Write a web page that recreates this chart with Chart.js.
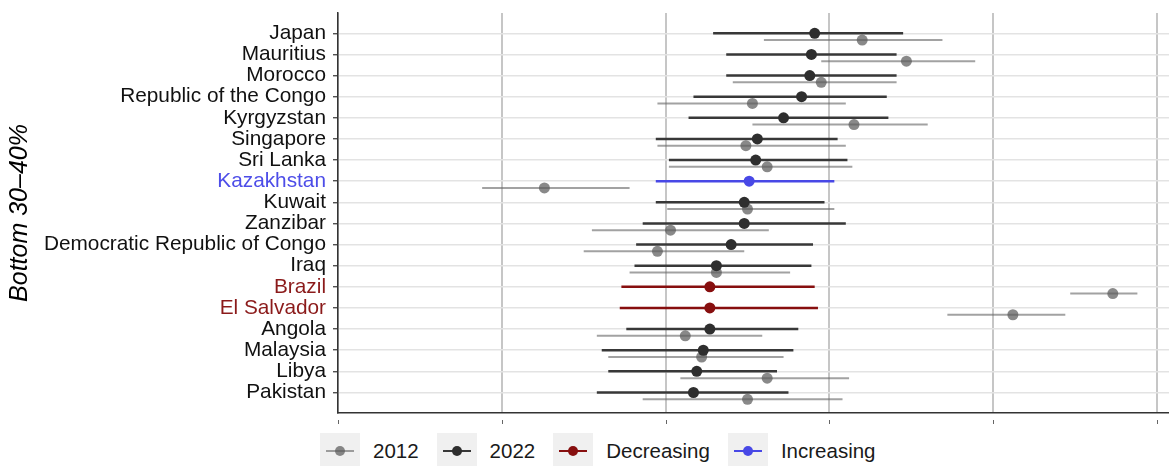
<!DOCTYPE html>
<html>
<head>
<meta charset="utf-8">
<script src="https://cdn.jsdelivr.net/npm/chart.js@4.4.1/dist/chart.umd.min.js"></script>
<style>
  body { margin: 0; background: #fff; width: 1169px; height: 466px; overflow: hidden;
         font-family: "Liberation Sans", Arial, Helvetica, sans-serif; }
  #wrap { position: relative; width: 1169px; height: 466px; }
  #c { position: absolute; left: 0; top: 0; }
  #legend { position: absolute; left: 320px; top: 433px; display: flex; align-items: center; height: 36px; }
  .item { display: flex; align-items: center; margin-right: 18px; }
  .key { position: relative; width: 40px; height: 36px; background: #f0f0f0; margin-right: 13px; }
  .key .ln { position: absolute; left: 6px; right: 6px; top: 17px; height: 2px; }
  .key .dt { position: absolute; left: 15px; top: 13px; width: 10px; height: 10px; border-radius: 50%; }
  .lab { font-size: 20.5px; color: #1a1a1a; line-height: 36px; }
</style>
</head>
<body>
<div id="wrap">
  <canvas id="c" width="1169" height="430"></canvas>
  <div id="legend"></div>
</div>
<script>
// Countries, top to bottom
const countries = [
  'Japan', 'Mauritius', 'Morocco', 'Republic of the Congo', 'Kyrgyzstan', 'Singapore',
  'Sri Lanka', 'Kazakhstan', 'Kuwait', 'Zanzibar', 'Democratic Republic of Congo', 'Iraq',
  'Brazil', 'El Salvador', 'Angola', 'Malaysia', 'Libya', 'Pakistan'
];

// 2022 estimate with interval bounds
const est2022 = [0.291, 0.289, 0.288, 0.283, 0.272, 0.256, 0.255, 0.251, 0.248, 0.248, 0.240, 0.231, 0.227, 0.227, 0.227, 0.223, 0.219, 0.217];
const lo2022  = [0.229, 0.237, 0.237, 0.217, 0.214, 0.194, 0.202, 0.194, 0.194, 0.186, 0.182, 0.181, 0.173, 0.172, 0.176, 0.161, 0.165, 0.158];
const hi2022  = [0.345, 0.341, 0.341, 0.335, 0.336, 0.305, 0.311, 0.303, 0.297, 0.310, 0.290, 0.289, 0.291, 0.293, 0.281, 0.278, 0.268, 0.275];

// 2012 estimate with interval bounds
const est2012 = [0.320, 0.347, 0.295, 0.253, 0.315, 0.249, 0.262, 0.126, 0.250, 0.203, 0.195, 0.231, 0.473, 0.412, 0.212, 0.222, 0.262, 0.250];
const lo2012  = [0.260, 0.295, 0.241, 0.195, 0.253, 0.195, 0.202, 0.088, 0.201, 0.155, 0.150, 0.178, 0.447, 0.372, 0.158, 0.165, 0.209, 0.186];
const hi2012  = [0.369, 0.389, 0.341, 0.310, 0.360, 0.310, 0.314, 0.178, 0.303, 0.263, 0.248, 0.276, 0.488, 0.444, 0.259, 0.272, 0.312, 0.308];

// Significant change between the two years
const trend = ['', '', '', '', '', '', '', 'Increasing', '', '', '', '', 'Decreasing', 'Decreasing', '', '', '', ''];

const xGridValues = [0, 0.1, 0.2, 0.3, 0.4, 0.5];

const FONT = '"Liberation Sans", Arial, Helvetica, sans-serif';
const COL = {
  y2012Point: 'rgba(92,92,92,0.72)',
  y2012Line: 'rgba(105,105,105,0.62)',
  y2022Point: '#2e2e2e',
  y2022Line: '#383838',
  dec: '#870f0f',
  inc: '#4848e6'
};
const labelColor = { '': '#111111', 'Decreasing': '#8b1a1a', 'Increasing': '#4d4de8' };
const OFFSET_2012 = 0.32;   // 2012 row sits just below the 2022 row

const rowsWith = t => countries.map((_, i) => i).filter(i => trend[i] === t);
const pointsFor = (idx, est, off) => idx.map(i => ({ x: est[i], y: i + 1 + off }));
const barsFor = (idx, lo, hi, off) => idx.flatMap(i => [
  { x: lo[i], y: i + 1 + off }, { x: hi[i], y: i + 1 + off }, { x: null, y: null }
]);

const allRows = countries.map((_, i) => i);
const neutral = rowsWith('');
const dec = rowsWith('Decreasing');
const inc = rowsWith('Increasing');

const pointDs = (label, data, color, order) => ({
  label, data, order, showLine: false,
  pointRadius: 5.5, pointHoverRadius: 5.5, pointBorderWidth: 0,
  backgroundColor: color, borderColor: color
});
const barDs = (label, data, color, width, order) => ({
  label, data, order, showLine: true, spanGaps: false,
  pointRadius: 0, pointHoverRadius: 0, borderWidth: width, borderColor: color,
  backgroundColor: color, fill: false, tension: 0
});

const datasets = [
  barDs('2012 interval', barsFor(allRows, lo2012, hi2012, OFFSET_2012), COL.y2012Line, 2, 6),
  pointDs('2012', pointsFor(allRows, est2012, OFFSET_2012), COL.y2012Point, 5),
  barDs('2022 interval', barsFor(neutral, lo2022, hi2022, 0), COL.y2022Line, 2.5, 4),
  barDs('Decreasing interval', barsFor(dec, lo2022, hi2022, 0), COL.dec, 2.5, 3),
  barDs('Increasing interval', barsFor(inc, lo2022, hi2022, 0), COL.inc, 2.5, 3),
  pointDs('2022', pointsFor(neutral, est2022, 0), COL.y2022Point, 1),
  pointDs('Decreasing', pointsFor(dec, est2022, 0), COL.dec, 0),
  pointDs('Increasing', pointsFor(inc, est2022, 0), COL.inc, 0)
];

// Short tick marks sitting slightly below the x axis line
const xTickMarks = {
  id: 'xTickMarks',
  afterDraw(chart) {
    const xs = chart.scales.x, ctx = chart.ctx, b = chart.chartArea.bottom;
    ctx.save();
    ctx.strokeStyle = '#666';
    ctx.lineWidth = 1;
    xGridValues.forEach(v => {
      const px = Math.round(xs.getPixelForValue(v)) + 0.5;
      ctx.beginPath();
      ctx.moveTo(px, b + 7);
      ctx.lineTo(px, b + 11);
      ctx.stroke();
    });
    ctx.restore();
  }
};

new Chart(document.getElementById('c'), {
  type: 'scatter',
  data: { datasets },
  options: {
    responsive: false,
    animation: false,
    events: [],
    layout: { autoPadding: false, padding: { top: 13, right: 0, left: 0, bottom: 0 } },
    plugins: { legend: { display: false }, tooltip: { enabled: false } },
    scales: {
      x: {
        type: 'linear', min: 0, max: 0.5073,
        afterBuildTicks: a => { a.ticks = xGridValues.map(v => ({ value: v })); },
        afterFit: a => { a.height = 17; a.paddingLeft = 0; a.paddingRight = 0; },
        ticks: { display: false },
        grid: { color: '#c6c6c6', lineWidth: 2, drawTicks: false },
        border: { display: true, color: '#333', width: 1.5 }
      },
      y: {
        type: 'linear', reverse: true, min: 0.04, max: 18.97,
        afterBuildTicks: a => { a.ticks = countries.map((_, i) => ({ value: i + 1 })); },
        afterFit: a => { a.width = 338; a.paddingTop = 0; a.paddingBottom = 0; },
        ticks: {
          autoSkip: false, padding: 7,
          font: { size: 20.8, family: FONT },
          color: ctx => labelColor[trend[ctx.index]] || '#111',
          callback: v => countries[Math.round(v) - 1]
        },
        grid: { color: '#e3e3e3', lineWidth: 1.5, tickColor: '#333', tickLength: 5, tickWidth: 1.2 },
        border: { display: true, color: '#333', width: 1.5 },
        title: {
          display: true, text: 'Bottom 30–40%', color: '#000',
          font: { size: 25, style: 'italic', family: FONT },
          padding: { top: 5, bottom: 0 }
        }
      }
    }
  },
  plugins: [xTickMarks]
});

// Legend below the plot
const legendItems = [
  { label: '2012', line: COL.y2012Line, dot: COL.y2012Point },
  { label: '2022', line: COL.y2022Line, dot: COL.y2022Point },
  { label: 'Decreasing', line: COL.dec, dot: COL.dec },
  { label: 'Increasing', line: COL.inc, dot: COL.inc }
];
const legend = document.getElementById('legend');
legendItems.forEach(it => {
  const item = document.createElement('div');
  item.className = 'item';
  item.innerHTML = '<div class="key"><div class="ln" style="background:' + it.line + '"></div>' +
    '<div class="dt" style="background:' + it.dot + '"></div></div><span class="lab">' + it.label + '</span>';
  legend.appendChild(item);
});
</script>
</body>
</html>
